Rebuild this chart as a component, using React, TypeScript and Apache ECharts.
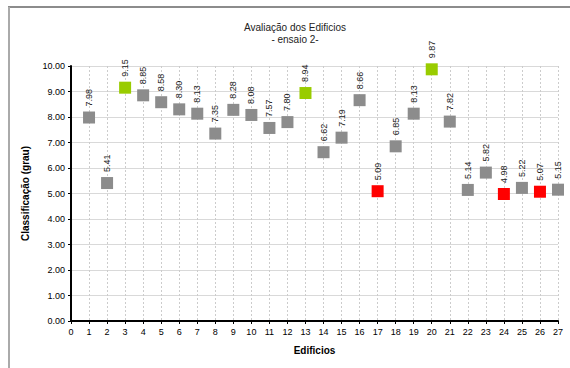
import React, { useEffect, useRef } from "react";
import * as echarts from "echarts";

const buildings = [1, 2, 3, 4, 5, 6, 7, 8, 9, 10, 11, 12, 13, 14, 15, 16, 17, 18, 19, 20, 21, 22, 23, 24, 25, 26, 27];
const grades = [7.98, 5.41, 9.15, 8.85, 8.58, 8.30, 8.13, 7.35, 8.28, 8.08, 7.57, 7.80, 8.94, 6.62, 7.19, 8.66, 5.09, 6.85, 8.13, 9.87, 7.82, 5.14, 5.82, 4.98, 5.22, 5.07, 5.15];
const status = ["g", "g", "best", "g", "g", "g", "g", "g", "g", "g", "g", "g", "best", "g", "g", "g", "worst", "g", "g", "best", "g", "g", "g", "worst", "g", "worst", "g"];
const statusKeys = ["g", "best", "worst"];
const statusColors: Record<string, string> = { g: "#8c8c8c", best: "#99cc00", worst: "#ff0000" };

export default function App() {
  const ref = useRef<HTMLDivElement>(null);
  useEffect(() => {
    if (!ref.current) return;
    const chart = echarts.init(ref.current, undefined, { renderer: "svg" });
    const font = "'Liberation Sans', Arial, sans-serif";
    const series = statusKeys.map((k) => ({
      type: "scatter",
      name: k,
      symbol: "rect",
      symbolSize: 12,
      itemStyle: { color: statusColors[k], opacity: 1 },
      data: buildings
        .map((b, i) => [b, grades[i], status[i]])
        .filter((d) => d[2] === k)
        .map((d) => [d[0], d[1]]),
      label: {
        show: true,
        position: "top",
        distance: 5,
        rotate: 90,
        align: "left",
        verticalAlign: "middle",
        fontSize: 9,
        fontFamily: font,
        color: "#222",
        formatter: (p: any) => p.value[1].toFixed(2),
      },
    }));
    chart.setOption({
      animation: false,
      backgroundColor: "#fff",
      title: {
        text: "Avaliação dos Edificios\n- ensaio 2-",
        left: 290,
        textAlign: "center",
        top: 16,
        textStyle: { fontSize: 10, fontWeight: "normal", fontFamily: font, color: "#222", lineHeight: 12 },
      },
      grid: { left: 71, right: 12, top: 66, bottom: 47, containLabel: false },
      xAxis: {
        type: "value",
        min: 0,
        max: 27,
        interval: 1,
        name: "Edificios",
        nameLocation: "middle",
        nameGap: 24,
        nameTextStyle: { fontSize: 10, fontWeight: "bold", fontFamily: font, color: "#000" },
        axisLine: { lineStyle: { color: "#000", width: 2 } },
        axisTick: { show: true, length: 3, lineStyle: { color: "#000" } },
        axisLabel: { fontSize: 9, fontFamily: font, color: "#000", margin: 6 },
        splitLine: { show: true, lineStyle: { color: "#cccccc", type: [2, 2], width: 1 } },
      },
      yAxis: {
        type: "value",
        min: 0,
        max: 10,
        interval: 1,
        name: "Classificação (grau)",
        nameLocation: "middle",
        nameGap: 41,
        nameTextStyle: { fontSize: 10, fontWeight: "bold", fontFamily: font, color: "#000" },
        axisLine: { show: true, lineStyle: { color: "#000", width: 2 } },
        axisTick: { show: true, length: 3, lineStyle: { color: "#000" } },
        axisLabel: { fontSize: 9, fontFamily: font, color: "#000", margin: 6, formatter: (v: number) => v.toFixed(2) },
        splitLine: { show: true, lineStyle: { color: "#d9d9d9", width: 1 } },
      },
      graphic: [
        { type: "line", shape: { x1: 8, y1: 7, x2: 570, y2: 7 }, style: { stroke: "#666", lineWidth: 1.5 } },
        { type: "line", shape: { x1: 9, y1: 7, x2: 9, y2: 368 }, style: { stroke: "#aaa", lineWidth: 2 } },
      ],
      series,
    });
    return () => chart.dispose();
  }, []);
  return <div ref={ref} style={{ width: 570, height: 368, position: "absolute", left: 0, top: 0 }} />;
}
